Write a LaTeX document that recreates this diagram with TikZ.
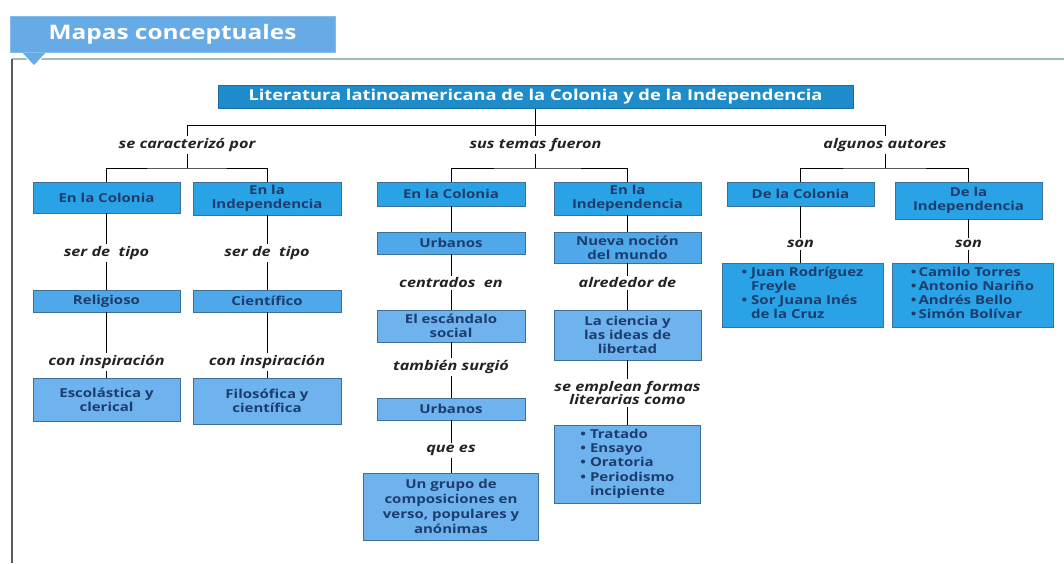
\documentclass[tikz,border=0pt]{standalone}
\usepackage{fontspec}
\setmainfont{Open Sans}[FakeStretch=1.22]
\definecolor{cA}{HTML}{2AA3E6}
\definecolor{cB}{HTML}{4EA8EA}
\definecolor{cC}{HTML}{6EB2EE}
\definecolor{cT}{HTML}{1E8CCB}
\definecolor{cTab}{HTML}{66ABE6}
\definecolor{bline}{HTML}{3F6F95}
\definecolor{btext}{HTML}{1C3D6E}
\definecolor{ltext}{HTML}{222222}
\definecolor{frameL}{HTML}{5A5A5A}
\definecolor{frameT}{HTML}{9FBDB5}
\newcommand\bfnt{\fontsize{12.3}{14.3}\selectfont\bfseries}
\newcommand\lfnt{\fontsize{13.3}{14}\selectfont\bfseries\itshape}
\tikzset{
  bx/.style={draw=bline, line width=0.7pt, align=center, inner sep=0pt, font=\bfnt, text=btext},
  sz/.style 2 args={minimum width=#1pt, minimum height=#2pt},
  lvA/.style={bx, fill=cA},
  lvB/.style={bx, fill=cB},
  lvC/.style={bx, fill=cC},
  lbl/.style={font=\lfnt, text=ltext, align=center, inner sep=2pt},
  conn/.style={draw=black, line width=1pt},
}
\begin{document}
\begin{tikzpicture}[x=1pt,y=-1pt]
\useasboundingbox (0,0) rectangle (1064,563);
% frame
\draw[frameT, line width=1.8pt] (12,59) -- (1064,59);
\draw[frameL, line width=2.5pt] (12,59) -- (12,563);
\fill[cTab, draw=white, line width=1pt] (20,51) -- (48,51) -- (34,66) -- cycle;
\node[fill=cTab, draw=cTab!80!white, line width=0.8pt, sz={325}{36}, text=white,
      font=\fontsize{20}{21}\selectfont\bfseries, inner sep=0pt] (tab) at (172.5,34) {Mapas conceptuales};
% title
\node[fill=cT, draw=cT!80!black, line width=0.7pt, sz={635}{23}, text=white,
      font=\fontsize{15}{16}\selectfont\bfseries, inner sep=0pt] (title) at (535.5,97)
      {Literatura latinoamericana de la Colonia y de la Independencia};
\coordinate (hub) at (535.5,125);
\coordinate (hubL) at (187,125);
\coordinate (hubR) at (885,125);
\coordinate (barL) at (187,168);
\coordinate (barM) at (535.5,168);
\coordinate (barR) at (885,168);
\node[lbl] (l1) at (187,145) {se caracterizó por};
\node[lbl] (l2) at (535.5,145) {sus temas fueron};
\node[lbl] (l3) at (885,145) {algunos autores};
% left group
\node[lvA, sz={147}{31}] (lc1) at (106.5,197.5) {En la Colonia};
\node[lvA, sz={148}{33}] (li1) at (267,198.5) {En la\\Independencia};
\node[lbl] (s1) at (106.5,253) {ser de\ \ tipo};
\node[lbl] (s2) at (267,253) {ser de\ \ tipo};
\node[lvB, sz={147}{22}] (lc2) at (106.5,301) {Religioso};
\node[lvB, sz={148}{22}] (li2) at (267,301) {Científico};
\node[lbl] (c1) at (106.5,362) {con inspiración};
\node[lbl] (c2) at (267,362) {con inspiración};
\node[lvC, sz={147}{43}] (lc3) at (106.5,399.5) {Escolástica y\\clerical};
\node[lvC, sz={148}{46}] (li3) at (267,401) {Filosófica y\\científica};
% middle group
\node[lvA, sz={148}{24}] (mc1) at (451,194) {En la Colonia};
\node[lvA, sz={147}{33}] (mi1) at (627.5,198.5) {En la\\Independencia};
\node[lvB, sz={148}{22}] (mc2) at (451,243) {Urbanos};
\node[lvB, sz={147}{31}] (mi2) at (627.5,247.5) {Nueva noción\\del mundo};
\node[lbl] (m1) at (451,283) {centrados\ \ en};
\node[lbl] (m2) at (627.5,283) {alrededor de};
\node[lvC, sz={148}{32}] (mc3) at (451,326) {El escándalo\\social};
\node[lvC, sz={147}{50}] (mi3) at (627.5,335) {La ciencia y\\las ideas de\\libertad};
\node[lbl] (m3) at (451,367) {también surgió};
\node[lbl, font=\fontsize{13.3}{13.5}\selectfont\bfseries\itshape] (m4) at (627.5,393) {se emplean formas\\literarias como};
\node[lvC, sz={148}{22}] (mc4) at (451,409) {Urbanos};
\node[lbl] (m5) at (451,450) {que es};
\node[lvC, sz={175}{67}, font=\fontsize{12.3}{15}\selectfont\bfseries] (mc5) at (451,506.5)
  {Un grupo de\\composiciones en\\verso, populares y\\anónimas};
\node[lvC, sz={146}{78}, font=\fontsize{12.3}{14.3}\selectfont\bfseries] (mi4) at (627.5,464)
  {\begin{tabular}{@{}l@{\ }l@{}}•&Tratado\\•&Ensayo\\•&Oratoria\\•&Periodismo\\&incipiente\end{tabular}};
% right group
\node[lvA, sz={147}{24}] (rc1) at (800.5,194) {De la Colonia};
\node[lvA, sz={147}{37}] (ri1) at (968.5,200.5) {De la\\Independencia};
\node[lbl] (r1) at (800.5,244) {son};
\node[lbl] (r2) at (968.5,244) {son};
\node[lvA, sz={161}{64}, font=\fontsize{12.3}{14}\selectfont\bfseries] (rc2) at (802.5,295)
  {\begin{tabular}{@{}l@{\ }l@{}}•&Juan Rodríguez\\&Freyle\\•&Sor Juana Inés\\&de la Cruz\end{tabular}};
\node[lvA, sz={161}{64}, font=\fontsize{12.3}{14}\selectfont\bfseries] (ri2) at (972.5,295)
  {\begin{tabular}{@{}l@{\,}l@{}}•&Camilo Torres\\•&Antonio Nariño\\•&Andrés Bello\\•&Simón Bolívar\end{tabular}};
% connectors
\draw[conn] (title.south) -- (hub);
\draw[conn] (hubL) -- (hubR);
\draw[conn] (hubL) -- (l1.north);
\draw[conn] (hub) -- (l2.north);
\draw[conn] (hubR) -- (l3.north);
\draw[conn] (l1.south) -- (barL);
\draw[conn] (l2.south) -- (barM);
\draw[conn] (l3.south) -- (barR);
\draw[conn] (lc1.north) |- (barL) -| (li1.north);
\draw[conn] (mc1.north) |- (barM) -| (mi1.north);
\draw[conn] (rc1.north) |- (barR) -| (ri1.north);
% left chains
\draw[conn] (lc1.south) -- (s1.north);
\draw[conn] (s1.south) -- (lc2.north);
\draw[conn] (lc2.south) -- (c1.north);
\draw[conn] (c1.south) -- (lc3.north);
\draw[conn] (li1.south) -- (s2.north);
\draw[conn] (s2.south) -- (li2.north);
\draw[conn] (li2.south) -- (c2.north);
\draw[conn] (c2.south) -- (li3.north);
% middle chains
\draw[conn] (mc1.south) -- (mc2.north);
\draw[conn] (mc2.south) -- (m1.north);
\draw[conn] (m1.south) -- (mc3.north);
\draw[conn] (mc3.south) -- (m3.north);
\draw[conn] (m3.south) -- (mc4.north);
\draw[conn] (mc4.south) -- (m5.north);
\draw[conn] (m5.south) -- (mc5.north);
\draw[conn] (mi1.south) -- (mi2.north);
\draw[conn] (mi2.south) -- (m2.north);
\draw[conn] (m2.south) -- (mi3.north);
\draw[conn] (mi3.south) -- (m4.north);
\draw[conn] (m4.south) -- (mi4.north);
% right chains
\draw[conn] (rc1.south) -- (r1.north);
\draw[conn] (r1.south) -- (r1.south |- rc2.north);
\draw[conn] (ri1.south) -- (r2.north);
\draw[conn] (r2.south) -- (r2.south |- ri2.north);
\end{tikzpicture}
\end{document}
